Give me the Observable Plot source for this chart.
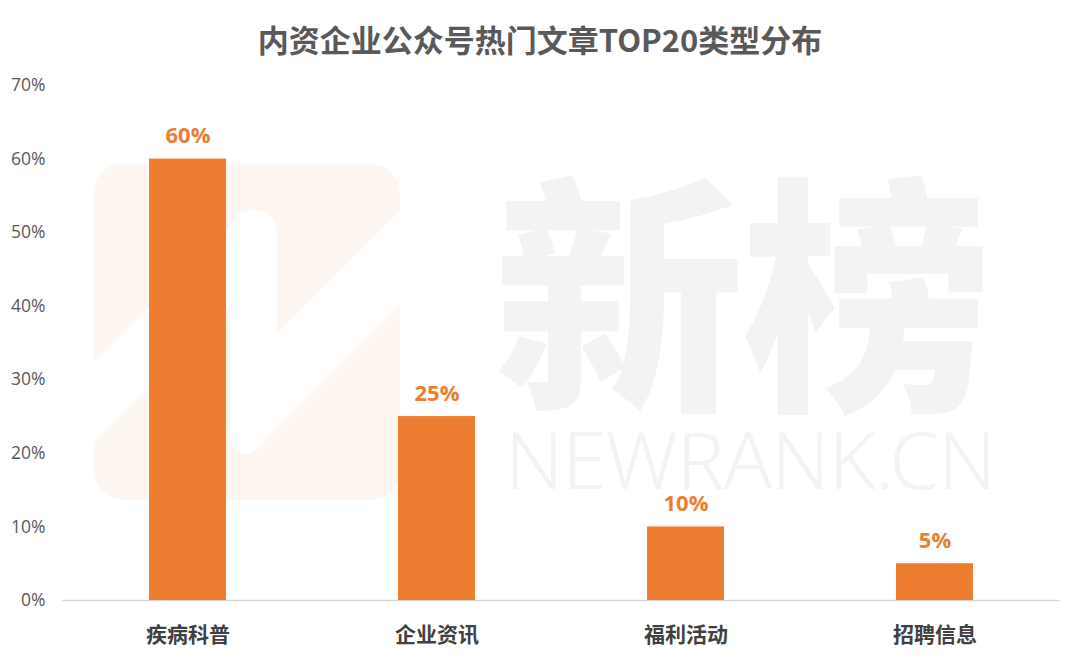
<!DOCTYPE html>
<html>
<head>
<meta charset="utf-8">
<script src="https://cdn.jsdelivr.net/npm/d3@7"></script>
<script src="https://cdn.jsdelivr.net/npm/@observablehq/plot@0.6"></script>
<style>
  html, body { margin: 0; padding: 0; background: #fff; }
  body { width: 1080px; height: 664px; overflow: hidden; font-family: "Open Sans", "Noto Sans CJK SC", sans-serif; }
  #wrap { position: relative; width: 1080px; height: 664px; }
  #title { position: relative; height: 70px; line-height: 78px; text-align: center; font-family: "Noto Sans CJK SC", sans-serif; font-weight: 700; font-size: 31px; color: #595959; }
  .wm { position: absolute; color: #f3f3f3; pointer-events: none; white-space: nowrap; }
  #wm1 { left: 494px; top: 182px; font-family: "Noto Sans CJK SC", sans-serif; font-weight: 900; font-size: 250px; line-height: 0.8; letter-spacing: -2px; }
  #wm2 { left: 505px; top: 430px; font-family: "Noto Sans", sans-serif; font-weight: 300; font-size: 80px; line-height: 0.7; letter-spacing: -1px; }
  #logo { position: absolute; left: 80px; top: 150px; width: 340px; height: 360px; pointer-events: none; }
  #chart { position: relative; }
  #chart svg { background: transparent; }
</style>
</head>
<body>
<div id="wrap">
  <svg id="logo" viewBox="0 0 1020 1080">
    <defs><clipPath id="rr"><rect x="40" y="40" width="920" height="1010" rx="90" ry="90"/></clipPath></defs>
    <g clip-path="url(#rr)" fill="#fef7f1">
      <path d="M40,40 L960,40 L960,180 L590,550 L590,250 Q590,180 520,180 Q450,180 450,250 L450,230 L40,640 Z"/>
      <path d="M40,880 L450,470 L450,850 Q450,910 500,910 Q520,910 545,880 L960,465 L960,1050 L40,1050 Z"/>
    </g>
  </svg>
  <div class="wm" id="wm1">新榜</div>
  <div class="wm" id="wm2">NEWRANK.CN</div>
  <div id="title">内资企业公众号热门文章TOP20类型分布</div>
  <div id="chart"></div>
</div>
<script>
const categories = ["疾病科普", "企业资讯", "福利活动", "招聘信息"];
const shares = [0.60, 0.25, 0.10, 0.05];
const yTicks = [0, 0.1, 0.2, 0.3, 0.4, 0.5, 0.6, 0.7];

const data = categories.map((c, i) => ({ category: c, share: shares[i] }));
const pct = d => `${Math.round(d * 100)}%`;

const chart = Plot.plot({
  width: 1080,
  height: 594,
  marginTop: 15,
  marginBottom: 64,
  marginLeft: 62,
  marginRight: 20,
  style: { background: "transparent", fontFamily: "'Open Sans', 'Noto Sans CJK SC', sans-serif" },
  x: { domain: categories, paddingInner: 0.69, paddingOuter: 0.345, label: null },
  y: { domain: [0, 0.7], label: null },
  marks: [
    Plot.ruleY([0], { stroke: "#d9d9d9", strokeWidth: 1.5 }),
    Plot.barY(data, { x: "category", y: "share", fill: "#ED7D31" }),
    Plot.text(data, {
      x: "category", y: "share", text: d => pct(d.share),
      dy: -16, lineAnchor: "bottom", fill: "#ED7D31", fontWeight: "bold", fontSize: 22
    }),
    Plot.axisY({ ticks: yTicks, tickFormat: pct, tickSize: 0, tickPadding: 17, fontSize: 17.5, color: "#595959", label: null }),
    Plot.axisX({ tickSize: 0, tickPadding: 27, fontSize: 21, fontWeight: "bold", color: "#404040", label: null,
                 fontFamily: "'Noto Sans CJK SC', sans-serif" })
  ]
});
document.getElementById("chart").appendChild(chart);
</script>
</body>
</html>
